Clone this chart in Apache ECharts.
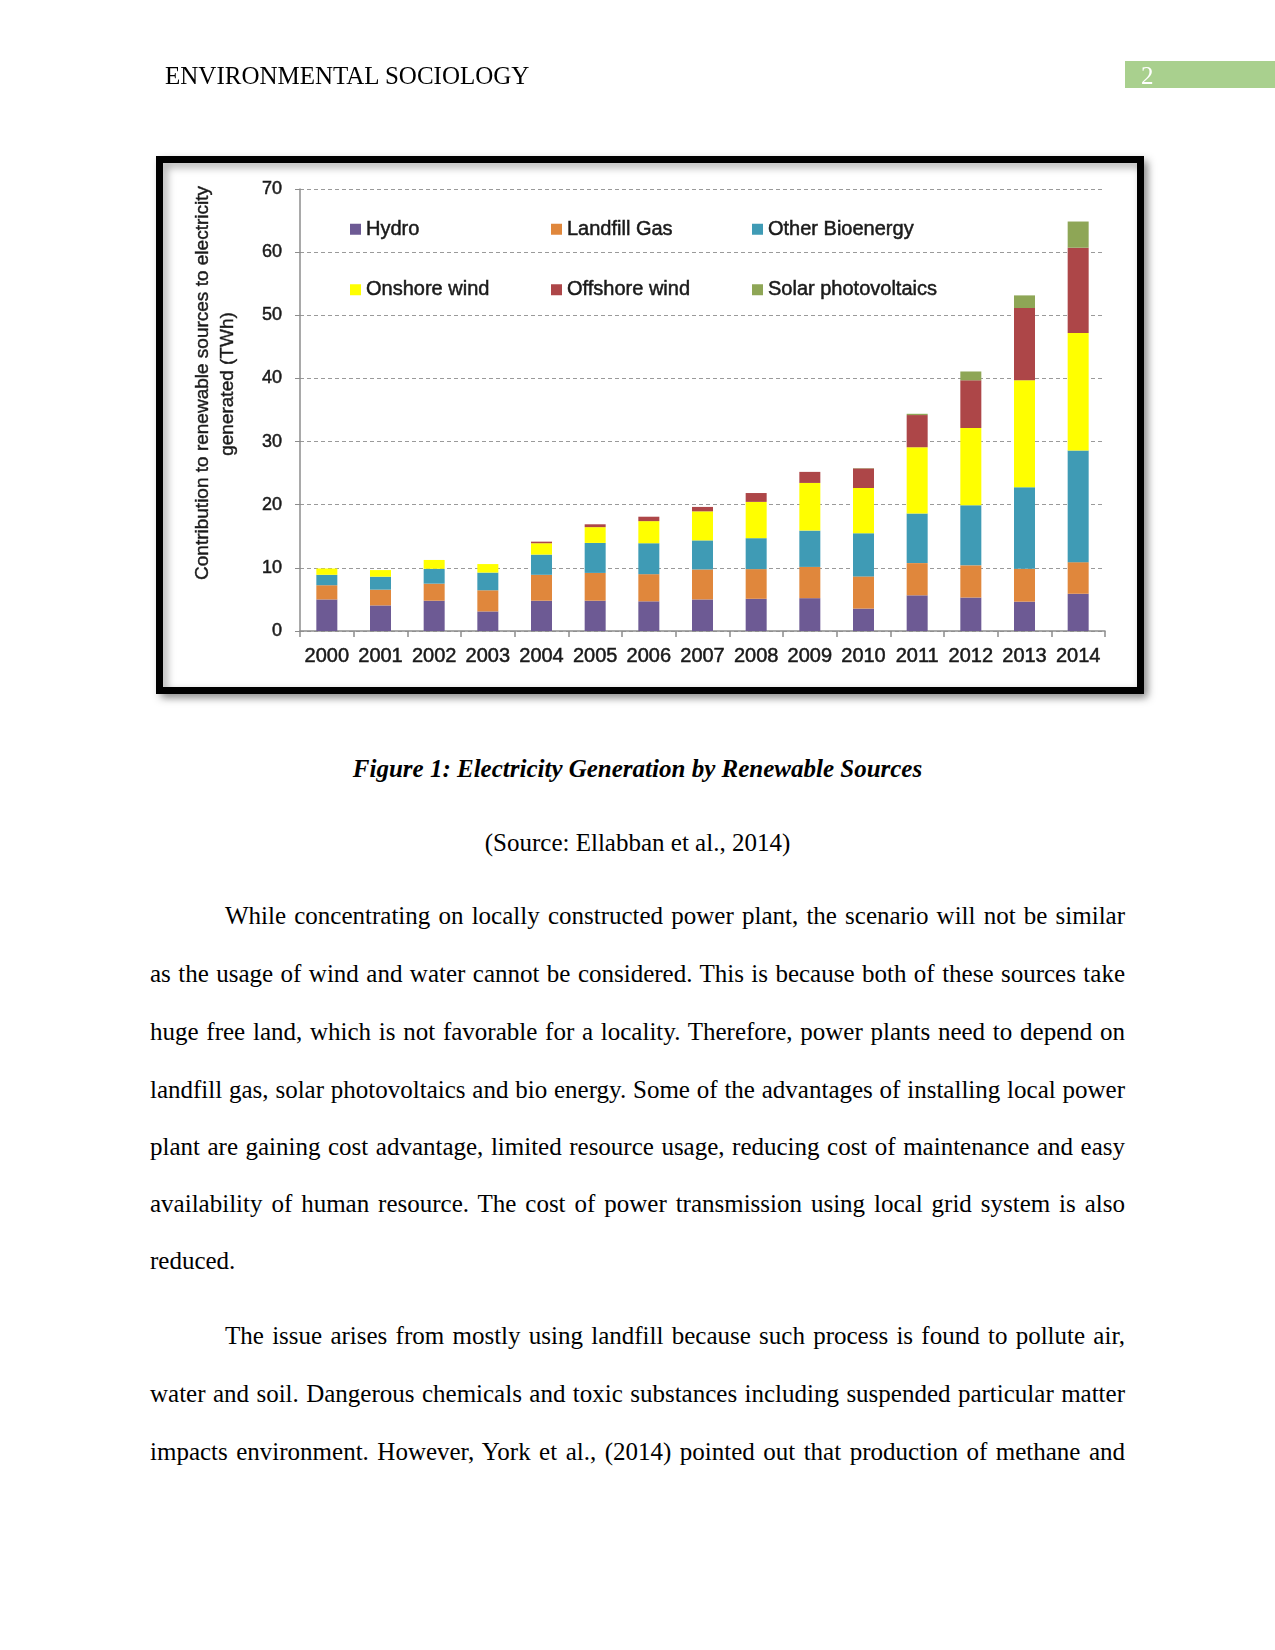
<!DOCTYPE html>
<html>
<head>
<meta charset="utf-8">
<script src="https://cdn.jsdelivr.net/npm/echarts@6/dist/echarts.min.js"></script>
<style>
  html, body { margin: 0; padding: 0; background: #fff; }
  #page { position: relative; width: 1275px; height: 1650px; overflow: hidden; background: #fff; }
  #chart { position: absolute; left: 0; top: 0; width: 1275px; height: 720px; }
  .t { position: absolute; font-family: "Liberation Serif", "Times New Roman", serif; font-size: 25px; line-height: 57.5px; color: #000; white-space: nowrap; }
  .line { position: absolute; left: 150px; width: 975px; font-family: "Liberation Serif", "Times New Roman", serif; font-size: 25px; line-height: 57.5px; height: 57.5px; color: #000; text-align: justify; text-align-last: justify; white-space: normal; }
  .line.last { text-align-last: left; }
  .line.ind { left: 225px; width: 900px; }
</style>
</head>
<body>
<div id="page">
  <div id="chart"></div>
  <div class="t" style="left:165px; top:47px;">ENVIRONMENTAL SOCIOLOGY</div>
  <div style="position:absolute; left:1125px; top:61px; width:150px; height:27px; background:#a9d08e;"></div>
  <div class="t" style="left:1141px; top:47px; color:#fff;">2</div>
  <div class="t" style="left:0; width:1275px; text-align:center; top:740px; font-weight:bold; font-style:italic;">Figure 1: Electricity Generation by Renewable Sources</div>
  <div class="t" style="left:0; width:1275px; text-align:center; top:814px;">(Source: Ellabban et al., 2014)</div>

  <div class="line ind" style="top:887px;">While concentrating on locally constructed power plant, the scenario will not be similar</div>
  <div class="line" style="top:945px;">as the usage of wind and water cannot be considered. This is because both of these sources take</div>
  <div class="line" style="top:1003px;">huge free land, which is not favorable for a locality. Therefore, power plants need to depend on</div>
  <div class="line" style="top:1061px;">landfill gas, solar photovoltaics and bio energy. Some of the advantages of installing local power</div>
  <div class="line" style="top:1118px;">plant are gaining cost advantage, limited resource usage, reducing cost of maintenance and easy</div>
  <div class="line" style="top:1175px;">availability of human resource. The cost of power transmission using local grid system is also</div>
  <div class="line last" style="top:1232px;">reduced.</div>

  <div class="line ind" style="top:1307px;">The issue arises from mostly using landfill because such process is found to pollute air,</div>
  <div class="line" style="top:1365px;">water and soil. Dangerous chemicals and toxic substances including suspended particular matter</div>
  <div class="line" style="top:1423px;">impacts environment. However, York et al., (2014) pointed out that production of methane and</div>
</div>
<script>
const years = ['2000','2001','2002','2003','2004','2005','2006','2007','2008','2009','2010','2011','2012','2013','2014'];
const seriesNames = ['Hydro','Landfill Gas','Other Bioenergy','Onshore wind','Offshore wind','Solar photovoltaics'];
const hydro    = [5.0, 4.05, 4.8, 3.1, 4.8, 4.8, 4.7, 5.0, 5.1, 5.2, 3.55, 5.65, 5.3, 4.65, 5.9];
const landfill = [2.25, 2.5, 2.7, 3.35, 4.1, 4.4, 4.3, 4.75, 4.7, 4.95, 5.1, 5.1, 5.1, 5.2, 5.0];
const bio      = [1.65, 2.05, 2.35, 2.8, 3.2, 4.75, 4.9, 4.6, 4.9, 5.75, 6.85, 7.85, 9.5, 12.9, 17.7];
const onshore  = [1.0, 1.05, 1.4, 1.35, 1.8, 2.5, 3.5, 4.6, 5.75, 7.55, 7.15, 10.5, 12.25, 16.95, 18.6];
const offshore = [0, 0, 0, 0, 0.25, 0.45, 0.7, 0.7, 1.4, 1.75, 3.1, 5.1, 7.55, 11.45, 13.5];
const solar    = [0, 0, 0, 0, 0, 0, 0, 0, 0, 0, 0.05, 0.2, 1.4, 2.0, 4.15];
const yTicks   = [0, 10, 20, 30, 40, 50, 60, 70];
const yTitle   = ['Contribution to renewable sources to electricity', 'generated (TWh)'];

const colors = ['#6d5a94', '#e0873c', '#3f9bb5', '#ffff00', '#ad4648', '#8ea656'];
const values = [hydro, landfill, bio, onshore, offshore, solar];

const chart = echarts.init(document.getElementById('chart'), null, { renderer: 'canvas' });
const FONT = '"Liberation Sans", Arial, Helvetica, sans-serif';
const TXT = '#1a1a1a';
const thick = { textBorderColor: TXT, textBorderWidth: 0.5 };
const legendBase = {
  orient: 'vertical', padding: 0, itemWidth: 11, itemHeight: 11, itemGap: 40, icon: 'rect',
  selectedMode: false, top: 219,
  textStyle: Object.assign({ fontFamily: FONT, fontSize: 20, color: TXT, lineHeight: 20 }, thick)
};
chart.setOption({
  animation: false,
  color: colors,
  textStyle: { fontFamily: FONT },
  graphic: [
    { type: 'rect', shape: { x: 159.5, y: 159.5, width: 981, height: 531 }, z: -10,
      style: { fill: '#fff', stroke: '#000', lineWidth: 7, shadowBlur: 8, shadowOffsetX: 4, shadowOffsetY: 4, shadowColor: 'rgba(0,0,0,0.35)' } },
    { type: 'text', x: 203, y: 383, rotation: Math.PI / 2,
      style: { text: yTitle[0], fontFamily: FONT, fontSize: 19, fill: TXT, stroke: TXT, lineWidth: 0.4, textAlign: 'center', textVerticalAlign: 'middle' } },
    { type: 'text', x: 228, y: 384, rotation: Math.PI / 2,
      style: { text: yTitle[1], fontFamily: FONT, fontSize: 19, fill: TXT, stroke: TXT, lineWidth: 0.4, textAlign: 'center', textVerticalAlign: 'middle' } }
  ],
  legend: [
    Object.assign({}, legendBase, { left: 350, data: [seriesNames[0], seriesNames[3]] }),
    Object.assign({}, legendBase, { left: 551, data: [seriesNames[1], seriesNames[4]] }),
    Object.assign({}, legendBase, { left: 752, data: [seriesNames[2], seriesNames[5]] })
  ],
  grid: { left: 300, right: 170, top: 189, bottom: 89, containLabel: false },
  xAxis: {
    type: 'category', data: years, boundaryGap: true,
    axisLine: { lineStyle: { color: '#8c8c8c', width: 1.5 } },
    axisTick: { show: true, interval: 0, length: 6, lineStyle: { color: '#8c8c8c', width: 1.5 } },
    axisLabel: Object.assign({ interval: 0, fontSize: 20, color: TXT, margin: 15, fontFamily: FONT }, thick)
  },
  yAxis: {
    type: 'value', min: yTicks[0], max: yTicks[yTicks.length - 1], interval: 10,
    axisLine: { show: true, lineStyle: { color: '#8c8c8c', width: 1.5 } },
    axisTick: { show: true, length: 5, lineStyle: { color: '#8c8c8c' } },
    axisLabel: Object.assign({ fontSize: 18, color: TXT, margin: 18, fontFamily: FONT }, thick),
    splitLine: { show: true, lineStyle: { color: '#9a9a9a', type: [4, 3], width: 1 } }
  },
  series: seriesNames.map((n, i) => ({
    name: n, type: 'bar', stack: 'total', barWidth: 21, data: values[i],
    itemStyle: { color: colors[i] }
  }))
});
</script>
</body>
</html>
